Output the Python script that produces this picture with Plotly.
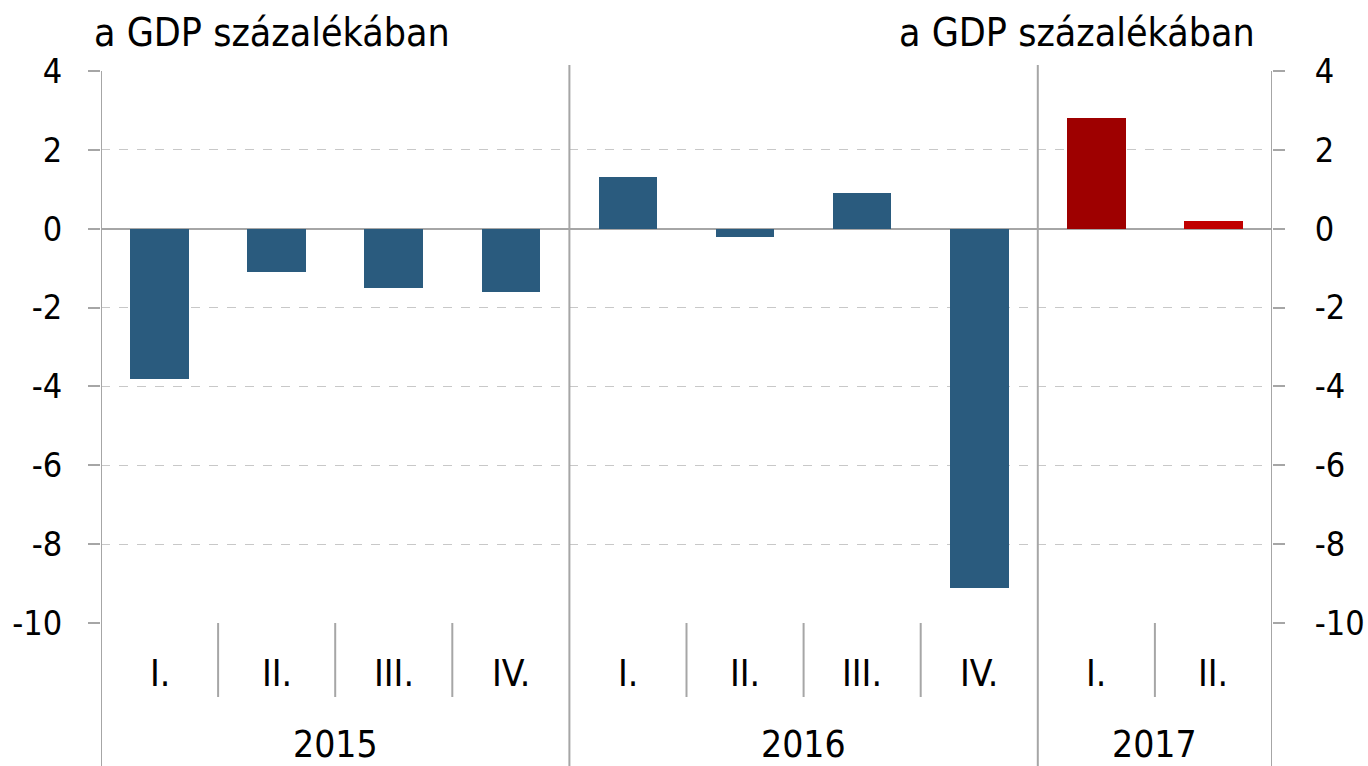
import plotly.graph_objects as go

quarters = ["I.", "II.", "III.", "IV.", "I.", "II.", "III.", "IV.", "I.", "II."]
years = ["2015", "2016", "2017"]
year_spans = [(0, 3), (4, 7), (8, 9)]
values = [-3.8, -1.1, -1.5, -1.6, 1.3, -0.2, 0.9, -9.1, 2.8, 0.2]
bar_colors = ["#2A5B7E"] * 8 + ["#9E0000", "#C00000"]
y_ticks = [4, 2, 0, -2, -4, -6, -8, -10]
unit_label = "a GDP százalékában"

FONT = "DejaVu Sans Condensed, DejaVu Sans"
FS_TICK = 34
FS_CAT = 37
FS_UNIT = 39
GRAY = "#A6A6A6"

W, H = 1368, 766
L, R, T, B = 101, 96, 71, 143
pw, ph = W - L - R, H - T - B

def py(pix):
    return (H - B - pix) / ph

xs = list(range(len(values)))

fig = go.Figure()
fig.add_trace(go.Bar(x=xs, y=values, marker=dict(color=bar_colors, line=dict(width=0)),
                     width=0.5, showlegend=False, hoverinfo="skip"))
fig.add_trace(go.Scatter(x=[0], y=[0], yaxis="y2", mode="markers",
                         marker=dict(opacity=0), showlegend=False, hoverinfo="skip"))

yax = dict(range=[-10, 4], tickvals=y_ticks, ticktext=[str(v) for v in y_ticks],
           showgrid=True, gridcolor="#C8C8C8", griddash="dash", gridwidth=1,
           zeroline=True, zerolinecolor=GRAY, zerolinewidth=2,
           ticks="outside", ticklen=12, tickcolor=GRAY, tickwidth=2,
           showline=False, tickfont=dict(family=FONT, size=FS_TICK, color="#000"),
           fixedrange=True, automargin=False)

fig.update_layout(
    width=W, height=H, margin=dict(l=L, r=R, t=T, b=B, autoexpand=False),
    paper_bgcolor="white", plot_bgcolor="white",
    bargap=0,
    xaxis=dict(range=[-0.5, len(values) - 0.5], showticklabels=False, showgrid=False,
               zeroline=False, showline=False, ticks="", fixedrange=True, automargin=False),
    yaxis=dict(**yax, side="left", ticklabelstandoff=19),
    yaxis2=dict(**yax, side="right", overlaying="y", ticklabelstandoff=23),
)

shapes = []
for xv in [-0.5, len(values) - 0.5]:
    shapes.append(dict(type="line", xref="x", yref="paper", x0=xv, x1=xv,
                       y0=1, y1=py(H + 2), line=dict(color=GRAY, width=2)))
for a, b in year_spans[:-1]:
    xv = b + 0.5
    shapes.append(dict(type="line", xref="x", yref="paper", x0=xv, x1=xv,
                       y0=py(65), y1=py(H + 2), line=dict(color=GRAY, width=2)))
for a, b in year_spans:
    for k in range(a, b):
        xv = k + 0.5
        shapes.append(dict(type="line", xref="x", yref="paper", x0=xv, x1=xv,
                           y0=0, y1=py(697), line=dict(color=GRAY, width=2)))
fig.update_layout(shapes=shapes)

ann = []
for i, q in enumerate(quarters):
    ann.append(dict(x=i, y=py(673), xref="x", yref="paper", text=q, showarrow=False,
                    font=dict(family=FONT, size=FS_CAT, color="#000"), yanchor="middle"))
for (a, b), yr in zip(year_spans, years):
    ann.append(dict(x=(a + b) / 2, y=py(744), xref="x", yref="paper", text=yr, showarrow=False,
                    font=dict(family=FONT, size=FS_CAT, color="#000"), yanchor="middle"))
ann.append(dict(x=(92 - L) / pw, y=py(32), xref="paper", yref="paper", text=unit_label,
                showarrow=False, xanchor="left", yanchor="middle",
                font=dict(family=FONT, size=FS_UNIT, color="#000")))
ann.append(dict(x=(1257 - L) / pw, y=py(32), xref="paper", yref="paper", text=unit_label,
                showarrow=False, xanchor="right", yanchor="middle",
                font=dict(family=FONT, size=FS_UNIT, color="#000")))
fig.update_layout(annotations=ann)

fig.write_html("out.html", config={"displayModeBar": False, "responsive": False},
               post_script="document.body.style.margin='0';document.body.style.overflow='hidden';")
